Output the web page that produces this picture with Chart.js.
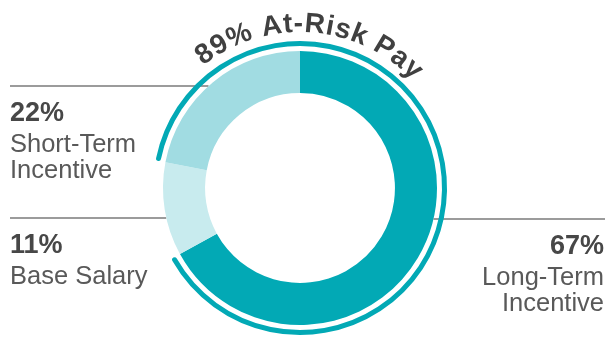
<!DOCTYPE html>
<html>
<head>
<meta charset="utf-8">
<script src="https://cdn.jsdelivr.net/npm/chart.js@4.4.1/dist/chart.umd.min.js"></script>
<style>
  html, body { margin: 0; padding: 0; background: #fff; }
  #wrap { width: 608px; height: 342px; position: relative; }
</style>
</head>
<body>
<div id="wrap"><canvas id="payMix"></canvas></div>
<script>
// pay mix, drawn clockwise from 12 o'clock
const segments = ['Long-Term Incentive', 'Base Salary', 'Short-Term Incentive'];
const shares = [67, 11, 22];
const segmentColors = ['#02A9B5', '#C8EBEE', '#A1DCE2'];
// label text split over lines
const labelLines = [['Long-Term', 'Incentive'], ['Base Salary'], ['Short-Term', 'Incentive']];
// which slices count as "at risk"
const atRisk = ['Long-Term Incentive', 'Short-Term Incentive'];
const atRiskTitle = 'At-Risk Pay';

const FONT = '"Liberation Sans", Arial, sans-serif';

// where each label block sits: rule y, side of the ring
const labelPlaces = {
  'Long-Term Incentive': { ruleY: 219, side: 'right' },
  'Base Salary': { ruleY: 218, side: 'left' },
  'Short-Term Incentive': { ruleY: 86, side: 'left' }
};

function drawArcText(ctx, text, cx, cy, r, centerAngle, spacing) {
  const chars = [...text];
  const widths = chars.map(ch => ctx.measureText(ch).width);
  const total = widths.reduce((a, b) => a + b, 0) + spacing * (chars.length - 1);
  let ang = centerAngle - total / 2 / r;
  chars.forEach((ch, i) => {
    const a = ang + widths[i] / 2 / r;
    ctx.save();
    ctx.translate(cx + r * Math.sin(a), cy - r * Math.cos(a));
    ctx.rotate(a);
    ctx.fillText(ch, 0, 0);
    ctx.restore();
    ang += (widths[i] + spacing) / r;
  });
}

const annotations = {
  id: 'annotations',
  beforeDatasetsDraw(chart) {
    const ctx = chart.ctx;
    const arcs = chart.getDatasetMeta(0).data;
    const cx = arcs[0].x, cy = arcs[0].y, R = arcs[0].outerRadius;
    ctx.save();
    ctx.strokeStyle = '#7a7a7a';
    ctx.lineWidth = 1.5;
    segments.forEach(name => {
      const p = labelPlaces[name];
      const edge = Math.sqrt(Math.max(0, R * R - (p.ruleY - cy) * (p.ruleY - cy)));
      ctx.beginPath();
      if (p.side === 'left') {
        ctx.moveTo(10, p.ruleY);
        ctx.lineTo(cx - edge, p.ruleY);
      } else {
        ctx.moveTo(cx + edge, p.ruleY);
        ctx.lineTo(605, p.ruleY);
      }
      ctx.stroke();
    });
    ctx.restore();
  },
  afterDatasetsDraw(chart) {
    const ctx = chart.ctx;
    const arcs = chart.getDatasetMeta(0).data;
    const cx = arcs[0].x, cy = arcs[0].y, R = arcs[0].outerRadius;

    // outer band over the at-risk slices
    const first = arcs[segments.indexOf(atRisk[1])];
    const last = arcs[segments.indexOf(atRisk[0])];
    const bandR = R + 7.5;
    const inset = 2.5 / bandR;
    ctx.save();
    ctx.strokeStyle = segmentColors[0];
    ctx.lineWidth = 5;
    ctx.lineCap = 'round';
    ctx.beginPath();
    ctx.arc(cx, cy, bandR, first.startAngle + inset, last.endAngle - inset, false);
    ctx.stroke();

    // curved heading
    const riskShare = atRisk.reduce((s, n) => s + shares[segments.indexOf(n)], 0);
    ctx.fillStyle = '#404040';
    ctx.font = 'bold 28px ' + FONT;
    ctx.textAlign = 'center';
    ctx.textBaseline = 'alphabetic';
    drawArcText(ctx, riskShare + '% ' + atRiskTitle, cx, cy, 156, 4 * Math.PI / 180, 0.8);

    // side labels
    segments.forEach((name, i) => {
      const p = labelPlaces[name];
      const x = p.side === 'left' ? 10 : 604;
      ctx.textAlign = p.side;
      ctx.fillStyle = '#474747';
      ctx.font = 'bold 27px ' + FONT;
      ctx.fillText(shares[i] + '%', x, p.ruleY + 35);
      ctx.fillStyle = '#595959';
      ctx.font = '25.5px ' + FONT;
      labelLines[i].forEach((line, j) => {
        ctx.fillText(line, x, p.ruleY + 66 + j * 26);
      });
    });
    ctx.restore();
  }
};

new Chart(document.getElementById('payMix'), {
  type: 'doughnut',
  data: {
    labels: segments,
    datasets: [{
      data: shares,
      backgroundColor: segmentColors,
      borderWidth: 0
    }]
  },
  options: {
    responsive: true,
    maintainAspectRatio: false,
    animation: false,
    cutout: '69.3%',
    layout: { padding: { top: 51, bottom: 17, left: 0, right: 8 } },
    plugins: {
      legend: { display: false },
      tooltip: { enabled: false }
    }
  },
  plugins: [annotations]
});
</script>
</body>
</html>
